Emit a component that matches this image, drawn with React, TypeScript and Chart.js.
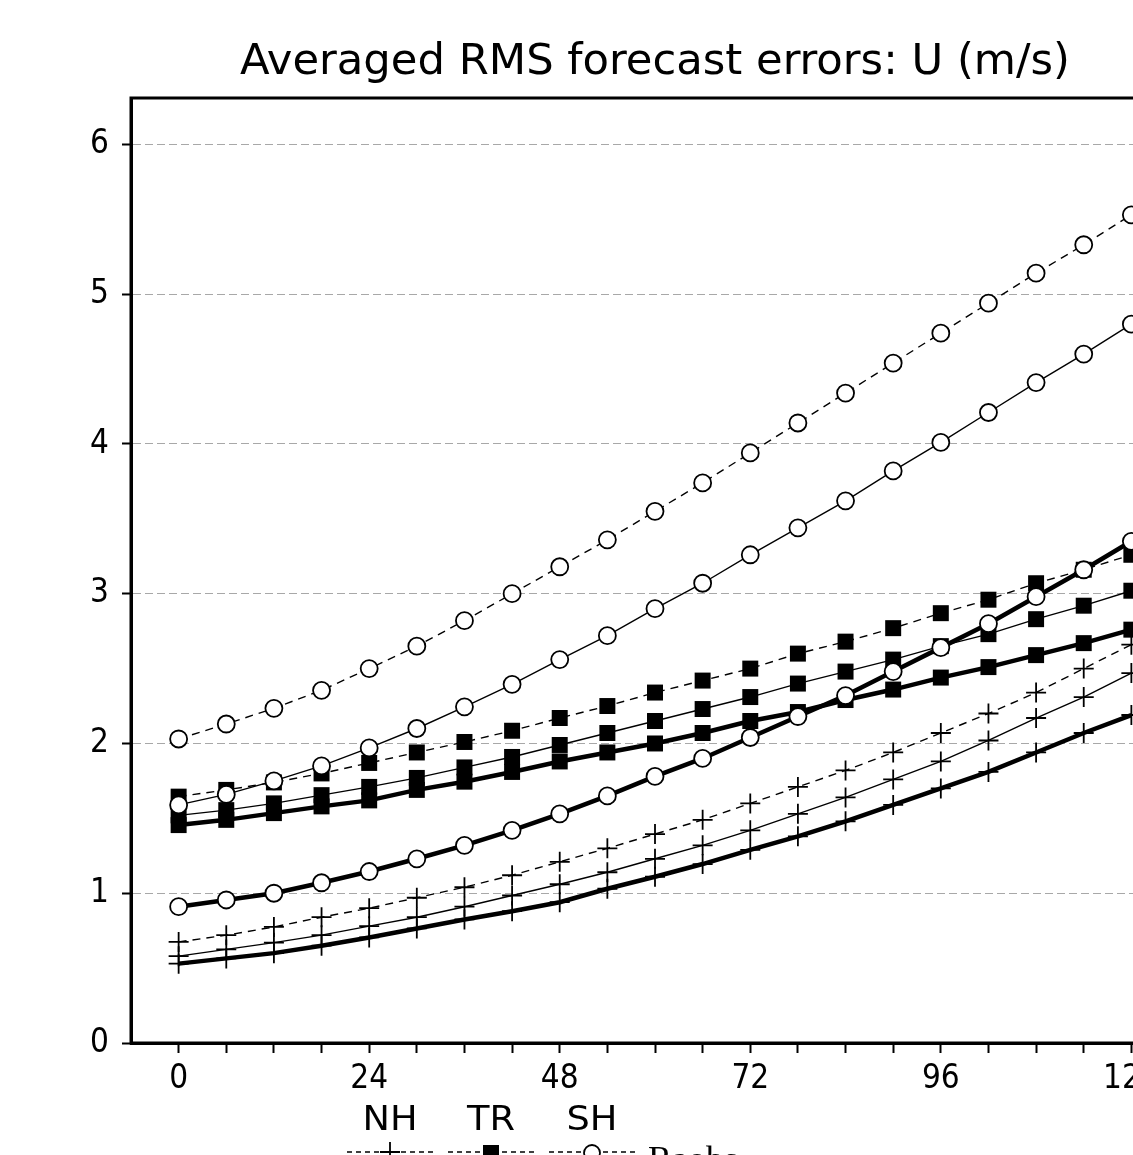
import React, { useEffect, useRef } from "react";
import { Chart, registerables } from "chart.js";

Chart.register(...registerables);

// ---- data ----
const hours = [0, 6, 12, 18, 24, 30, 36, 42, 48, 54, 60, 66, 72, 78, 84, 90, 96, 102, 108, 114, 120];

const nhDashed = [0.675, 0.72, 0.775, 0.84, 0.9, 0.97, 1.04, 1.12, 1.21, 1.3, 1.395, 1.49, 1.6, 1.71, 1.82, 1.94, 2.07, 2.2, 2.34, 2.5, 2.66];
const nhThin = [0.58, 0.625, 0.67, 0.72, 0.78, 0.84, 0.91, 0.985, 1.06, 1.14, 1.23, 1.32, 1.42, 1.53, 1.64, 1.76, 1.88, 2.02, 2.17, 2.31, 2.47];
const nhThick = [0.53, 0.565, 0.6, 0.65, 0.705, 0.765, 0.825, 0.88, 0.94, 1.03, 1.11, 1.195, 1.29, 1.38, 1.48, 1.59, 1.7, 1.81, 1.94, 2.07, 2.19];

const trDashed = [1.645, 1.69, 1.74, 1.8, 1.87, 1.94, 2.01, 2.085, 2.17, 2.25, 2.34, 2.42, 2.5, 2.6, 2.68, 2.77, 2.87, 2.96, 3.07, 3.16, 3.26];
const trThin = [1.52, 1.555, 1.6, 1.655, 1.71, 1.77, 1.84, 1.91, 1.99, 2.07, 2.15, 2.23, 2.31, 2.4, 2.48, 2.56, 2.65, 2.73, 2.83, 2.92, 3.02];
const trThick = [1.455, 1.49, 1.535, 1.58, 1.62, 1.69, 1.745, 1.81, 1.88, 1.94, 2.0, 2.07, 2.15, 2.21, 2.29, 2.36, 2.44, 2.51, 2.59, 2.67, 2.76];

const shDashed = [2.03, 2.13, 2.235, 2.355, 2.5, 2.65, 2.82, 3.0, 3.18, 3.36, 3.55, 3.74, 3.94, 4.14, 4.34, 4.54, 4.74, 4.94, 5.14, 5.33, 5.53];
const shThin = [1.59, 1.66, 1.75, 1.85, 1.97, 2.1, 2.245, 2.395, 2.56, 2.72, 2.9, 3.07, 3.26, 3.44, 3.62, 3.82, 4.01, 4.21, 4.41, 4.6, 4.8];
const shThick = [0.91, 0.955, 1.0, 1.07, 1.145, 1.23, 1.32, 1.42, 1.53, 1.65, 1.78, 1.9, 2.04, 2.18, 2.32, 2.48, 2.64, 2.8, 2.98, 3.16, 3.35];

const titleText = "Averaged RMS forecast errors: U (m/s)";
const regionLabels = ["NH", "TR", "SH"];
const sourceLabel = "Raobs";
const xLabelEvery = 24;

// ---- styling ----
const FONT = "'DejaVu Sans Condensed', 'DejaVu Sans', sans-serif";
const CANVAS_W = 1300;
const CANVAS_H = 1250;

type Kind = "cross" | "rect" | "circle";

const markerOpts = (kind: Kind) => {
  if (kind === "cross")
    return { pointStyle: "cross", pointRadius: 10, pointBorderWidth: 1.8, pointBackgroundColor: "#000", pointBorderColor: "#000" };
  if (kind === "rect")
    return { pointStyle: "rect", pointRadius: 11.3, pointBorderWidth: 0, pointBackgroundColor: "#000", pointBorderColor: "#000" };
  return { pointStyle: "circle", pointRadius: 8.5, pointBorderWidth: 1.8, pointBackgroundColor: "#fff", pointBorderColor: "#000" };
};

const makeDs = (label: string, values: number[], kind: Kind, style: "dashed" | "thin" | "thick") => ({
  label,
  data: hours.map((h, i) => ({ x: h, y: values[i] })),
  borderColor: "#000",
  borderWidth: style === "thick" ? 4.5 : 1.4,
  borderDash: style === "dashed" ? [8, 6] : [],
  tension: 0,
  fill: false,
  pointHoverRadius: 0,
  ...markerOpts(kind),
});

function drawFitted(ctx: CanvasRenderingContext2D, text: string, cx: number, baseline: number, size: number, width: number, family: string) {
  ctx.save();
  ctx.font = `${size}px ${family}`;
  const w = ctx.measureText(text).width;
  ctx.translate(cx, baseline);
  ctx.scale(width / w, 1);
  ctx.textAlign = "center";
  ctx.textBaseline = "alphabetic";
  ctx.fillStyle = "#000";
  ctx.fillText(text, 0, 0);
  ctx.restore();
}

const decorPlugin = {
  id: "decor",
  afterDraw(chart: any) {
    const ctx: CanvasRenderingContext2D = chart.ctx;
    const a = chart.chartArea;
    // frame
    ctx.save();
    ctx.strokeStyle = "#000";
    ctx.lineWidth = 3;
    ctx.strokeRect(a.left, a.top, a.right - a.left, a.bottom - a.top);
    ctx.restore();
    // title
    drawFitted(ctx, titleText, (a.left + a.right) / 2, 74, 42, 830, FONT);
    // legend labels
    const centers = [390, 491, 592];
    const widths = [55, 48, 51];
    regionLabels.forEach((t, i) => drawFitted(ctx, t, centers[i], 1130, 33, widths[i], FONT));
    // legend symbols
    const ly = 1152;
    const kinds: Kind[] = ["cross", "rect", "circle"];
    centers.forEach((cx, i) => {
      ctx.save();
      ctx.strokeStyle = "#000";
      ctx.lineWidth = 1.4;
      ctx.setLineDash([5, 4]);
      ctx.beginPath();
      ctx.moveTo(cx - 43, ly);
      ctx.lineTo(cx + 43, ly);
      ctx.stroke();
      ctx.setLineDash([]);
      const k = kinds[i];
      if (k === "cross") {
        ctx.lineWidth = 1.8;
        ctx.beginPath();
        ctx.moveTo(cx - 10, ly);
        ctx.lineTo(cx + 10, ly);
        ctx.moveTo(cx, ly - 10);
        ctx.lineTo(cx, ly + 10);
        ctx.stroke();
      } else if (k === "rect") {
        ctx.fillStyle = "#000";
        ctx.fillRect(cx - 8, ly - 7, 16, 16);
      } else {
        ctx.fillStyle = "#fff";
        ctx.lineWidth = 1.8;
        ctx.beginPath();
        ctx.arc(cx, ly + 1, 8, 0, Math.PI * 2);
        ctx.fill();
        ctx.stroke();
      }
      ctx.restore();
    });
    ctx.save();
    ctx.font = "36px 'Liberation Serif', 'DejaVu Serif', serif";
    ctx.fillStyle = "#000";
    ctx.textAlign = "left";
    ctx.textBaseline = "alphabetic";
    ctx.fillText(sourceLabel, 648, 1171);
    ctx.restore();
  },
};

export default function App() {
  const ref = useRef<HTMLCanvasElement | null>(null);

  useEffect(() => {
    if (!ref.current) return;
    const datasets = [
      makeDs("SH dashed", shDashed, "circle", "dashed"),
      makeDs("SH thin", shThin, "circle", "thin"),
      makeDs("SH thick", shThick, "circle", "thick"),
      makeDs("TR dashed", trDashed, "rect", "dashed"),
      makeDs("TR thin", trThin, "rect", "thin"),
      makeDs("TR thick", trThick, "rect", "thick"),
      makeDs("NH dashed", nhDashed, "cross", "dashed"),
      makeDs("NH thin", nhThin, "cross", "thin"),
      makeDs("NH thick", nhThick, "cross", "thick"),
    ];
    const chart = new Chart(ref.current, {
      type: "line",
      data: { datasets } as any,
      options: {
        animation: false,
        responsive: false,
        events: [],
        layout: { padding: { left: 0, right: 121, top: 98, bottom: 0 } },
        plugins: { legend: { display: false }, title: { display: false }, tooltip: { enabled: false } },
        scales: {
          x: {
            type: "linear",
            min: -6,
            max: 126,
            ticks: {
              stepSize: 6,
              autoSkip: false,
              maxRotation: 0,
              padding: 7,
              color: "#000",
              font: { family: FONT, size: 33 },
              callback: (v: any) => (v % xLabelEvery === 0 && v >= 0 && v <= 120 ? String(v) : ""),
            },
            grid: {
              drawOnChartArea: false,
              drawTicks: true,
              tickLength: 10,
              tickWidth: 2,
              tickColor: (c: any) => (c.tick && c.tick.value >= 0 && c.tick.value <= 120 ? "#000" : "rgba(0,0,0,0)"),
            },
            border: { display: true, color: "#000", width: 3 },
            afterFit: (s: any) => {
              s.height = CANVAS_H - 1043;
            },
          },
          y: {
            min: 0,
            max: 6.31,
            afterBuildTicks: (s: any) => {
              s.ticks = s.ticks.filter((t: any) => Number.isInteger(t.value));
            },
            ticks: {
              stepSize: 1,
              padding: 13,
              color: "#000",
              font: { family: FONT, size: 33 },
            },
            grid: {
              drawOnChartArea: true,
              color: (c: any) => (c.tick && c.tick.value === 0 ? "rgba(0,0,0,0)" : "#a8a8a8"),
              lineWidth: 1,
              tickLength: 9,
              tickWidth: 2,
              tickColor: "#000",
            },
            border: { display: true, color: "#000", width: 3, dash: [8, 4] },
            afterFit: (s: any) => {
              s.width = 131;
            },
          },
        },
      } as any,
      plugins: [decorPlugin],
    });
    return () => chart.destroy();
  }, []);

  return (
    <div style={{ position: "fixed", left: 0, top: 0, width: 1133, height: 1155, overflow: "hidden", background: "#fff" }}>
      <canvas ref={ref} width={CANVAS_W} height={CANVAS_H} style={{ width: CANVAS_W, height: CANVAS_H, display: "block" }} />
    </div>
  );
}
